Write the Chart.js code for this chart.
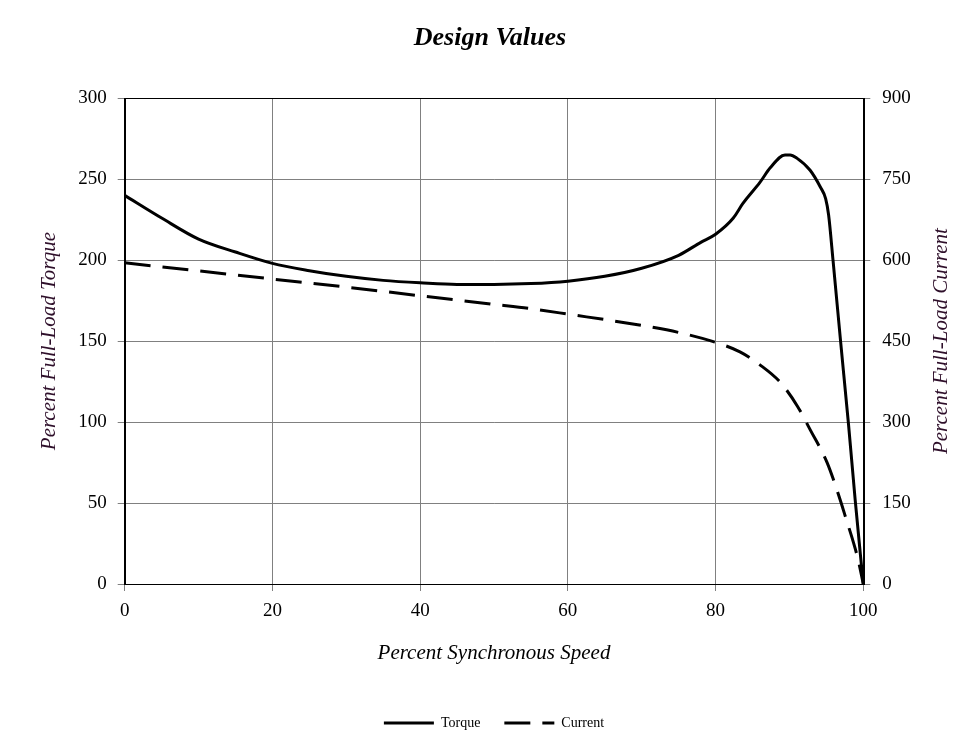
<!DOCTYPE html>
<html>
<head>
<meta charset="utf-8">
<script src="https://cdn.jsdelivr.net/npm/chart.js@4"></script>
<style>
  html, body { margin: 0; padding: 0; background: #fff; }
  #wrap { width: 976px; height: 747px; }
</style>
</head>
<body>
<div id="wrap"><canvas id="designChart" width="976" height="747"></canvas></div>
<script>
// ==========================
// Data
// ==========================
const torqueSpeed  = [0, 5, 10, 15, 20, 25, 30, 35, 40, 45, 50, 55, 60, 65, 70, 75, 78, 80, 82.4, 83.7, 86, 87.4, 89.4, 90.1, 91, 92.8, 94.2, 94.9, 95.3, 95.9, 96.9, 98, 98.9, 99.6, 100];
const torqueValues = [240, 226, 213, 205, 198, 193.5, 190, 187.5, 186, 185, 185, 185.5, 187, 190, 195, 203, 211, 216, 226, 235, 248, 257, 265, 265, 263, 255.5, 245, 238, 228, 200, 151, 98.5, 52, 18.5, 0];

const currentSpeed  = [0, 10, 20, 30, 40, 50, 55, 60, 70, 75, 79.7, 83.3, 86, 88.8, 91.1, 92.8, 95.1, 96.7, 97.8, 98.6, 99.3, 100];
const currentValues = [595, 580, 565, 550, 534, 518, 510, 500, 479, 466, 449, 430, 406, 373, 329, 286, 225, 163, 115, 80, 45, 0];

// tick setup
const speedTicks   = [0, 20, 40, 60, 80, 100];
const torqueTicks  = [0, 50, 100, 150, 200, 250, 300];
const currentTicks = [0, 150, 300, 450, 600, 750, 900];

const serif = "'Liberation Serif', 'Times New Roman', serif";
const gridColor = "#808080";
const titleColor = "#2e0f2a";
const currentTitle = "Percent Full-Load Current";

const toPoints = (xs, ys) => xs.map((x, i) => ({ x: x, y: ys[i] }));

// frame around the plot area + right axis title reading bottom to top
const extras = {
  id: "extras",
  afterDatasetsDraw(chart) {
    const a = chart.chartArea;
    const ctx = chart.ctx;
    ctx.save();
    ctx.strokeStyle = "#000";
    ctx.lineWidth = 1;
    ctx.strokeRect(Math.round(a.left) + 0.5, Math.round(a.top) + 0.5,
                   Math.round(a.right - a.left), Math.round(a.bottom - a.top));
    ctx.restore();
  },
  afterDraw(chart) {
    const s = chart.scales.y1;
    const ctx = chart.ctx;
    ctx.save();
    ctx.translate(s.right - 18 - 12.6, (s.top + s.bottom) / 2);
    ctx.rotate(-Math.PI / 2);
    ctx.textAlign = "center";
    ctx.textBaseline = "middle";
    ctx.font = "italic 21px " + serif;
    ctx.fillStyle = titleColor;
    ctx.fillText(currentTitle, 0, 0);
    ctx.restore();
  }
};

new Chart(document.getElementById("designChart"), {
  type: "line",
  data: {
    datasets: [{
      label: "Torque",
      data: toPoints(torqueSpeed, torqueValues),
      yAxisID: "y",
      borderColor: "#000",
      backgroundColor: "#000",
      borderWidth: 3,
      pointRadius: 0,
      cubicInterpolationMode: "monotone"
    }, {
      label: "Current",
      data: toPoints(currentSpeed, currentValues),
      yAxisID: "y1",
      borderColor: "#000",
      backgroundColor: "#000",
      borderWidth: 3,
      borderDash: [26, 12],
      pointRadius: 0,
      cubicInterpolationMode: "monotone"
    }]
  },
  plugins: [extras],
  options: {
    responsive: false,
    animation: false,
    layout: { padding: { left: 8, right: 4, top: 0, bottom: 7 } },
    plugins: {
      title: {
        display: true,
        text: "Design Values",
        color: "#000",
        font: { family: serif, size: 26, style: "italic", weight: "bold" },
        padding: { top: 23, bottom: 44 }
      },
      legend: {
        position: "bottom",
        fullSize: false,
        labels: {
          color: "#000",
          font: { family: serif, size: 14 },
          usePointStyle: true,
          pointStyle: "line",
          pointStyleWidth: 50,
          padding: 24,
          // dash pattern of the dataset in the legend sample
          generateLabels: chart => Chart.defaults.plugins.legend.labels.generateLabels(chart).map(l => {
            l.lineDash = chart.data.datasets[l.datasetIndex].borderDash || [];
            return l;
          })
        }
      },
      tooltip: { enabled: false }
    },
    scales: {
      x: {
        type: "linear",
        min: 0, max: 100,
        afterBuildTicks: s => { s.ticks = speedTicks.map(v => ({ value: v })); },
        ticks: { color: "#000", font: { family: serif, size: 19 }, padding: 9 },
        grid: { color: gridColor, tickLength: 7 },
        border: { color: "#000" },
        title: {
          display: true,
          text: "Percent Synchronous Speed",
          color: "#000",
          font: { family: serif, size: 21, style: "italic" },
          padding: { top: 9, bottom: 26 }
        }
      },
      y: {
        position: "left",
        min: 0, max: 300,
        afterBuildTicks: s => { s.ticks = torqueTicks.map(v => ({ value: v })); },
        ticks: { color: "#000", font: { family: serif, size: 19 }, padding: 11 },
        grid: { color: gridColor, tickLength: 7 },
        border: { color: "#000" },
        title: {
          display: true,
          text: "Percent Full-Load Torque",
          color: titleColor,
          font: { family: serif, size: 21, style: "italic" },
          padding: { top: 29, bottom: 5 }
        }
      },
      y1: {
        position: "right",
        min: 0, max: 900,
        afterBuildTicks: s => { s.ticks = currentTicks.map(v => ({ value: v })); },
        ticks: { color: "#000", font: { family: serif, size: 19 }, padding: 12 },
        grid: { drawOnChartArea: false, color: gridColor, tickLength: 7 },
        border: { color: "#000" },
        // space only, the text itself is drawn by the extras plugin
        title: {
          display: true,
          text: currentTitle,
          color: "rgba(0,0,0,0)",
          font: { family: serif, size: 21, style: "italic" },
          padding: { top: 18, bottom: 6 }
        }
      }
    }
  }
});
</script>
</body>
</html>
